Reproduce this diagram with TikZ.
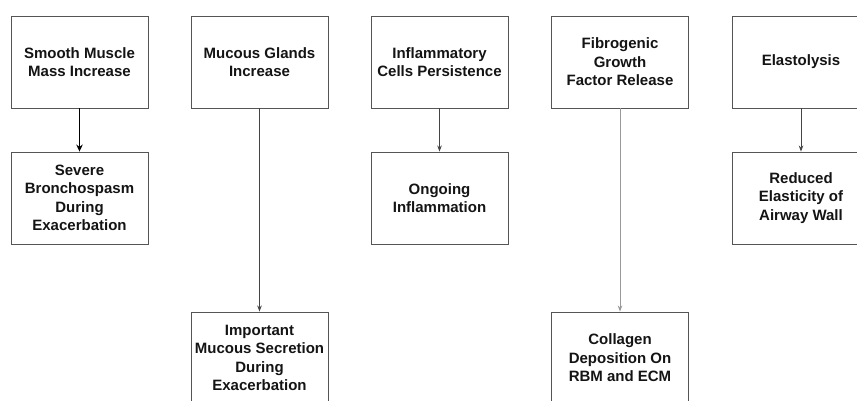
\documentclass[tikz,border=0pt]{standalone}
\usepackage{fontspec}
\setmainfont{Liberation Sans}
\usetikzlibrary{arrows.meta}
\definecolor{boxline}{HTML}{555555}
\definecolor{txt}{HTML}{141414}
\tikzset{
  stagebox/.style={draw=boxline, line width=0.9pt, minimum width=137pt, minimum height=92pt,
    inner sep=0pt, align=center, text=txt,
    font=\bfseries\fontsize{15}{18.5}\selectfont},
  link/.style={draw=boxline!80!black, line width=0.8pt, -{Stealth[length=6pt,width=4.5pt]}},
  boldlink/.style={draw=black, line width=1.6pt, -{Stealth[length=7pt,width=6.5pt]}}
}
\begin{document}
\begin{tikzpicture}[x=1pt,y=-1pt]
\useasboundingbox (0,0) rectangle (857,401);
\fill[white] (0,0) rectangle (857,401);
\begin{scope}
\clip (0,0) rectangle (857,401);
% top row
\node[stagebox] (sm)  at (79.5,62)  {Smooth Muscle\\Mass Increase};
\node[stagebox] (mg)  at (259.5,62) {Mucous Glands\\Increase};
\node[stagebox] (ic)  at (439.5,62) {Inflammatory\\Cells Persistence};
\node[stagebox] (fg)  at (620,62)   {Fibrogenic\\Growth\\Factor Release};
\node[stagebox] (el)  at (801,62)   {Elastolysis};
% second row
\node[stagebox] (sb)  at (79.5,198) {Severe\\Bronchospasm\\During\\Exacerbation};
\node[stagebox] (oi)  at (439.5,198){Ongoing\\Inflammation};
\node[stagebox] (re)  at (801,198)  {Reduced\\Elasticity of\\Airway Wall};
% third row
\node[stagebox] (ms)  at (259.5,358){Important\\Mucous Secretion\\During\\Exacerbation};
\node[stagebox] (cd)  at (620,358)  {Collagen\\Deposition On\\RBM and ECM};
% connectors
\draw[boldlink] (sm.south) -- (sb.north);
\draw[link] (mg.south) -- (ms.north);
\draw[link] (ic.south) -- (oi.north);
\draw[link, draw=boxline!60] (fg.south) -- (cd.north);
\draw[link] (el.south) -- (re.north);
\end{scope}
\end{tikzpicture}
\end{document}
